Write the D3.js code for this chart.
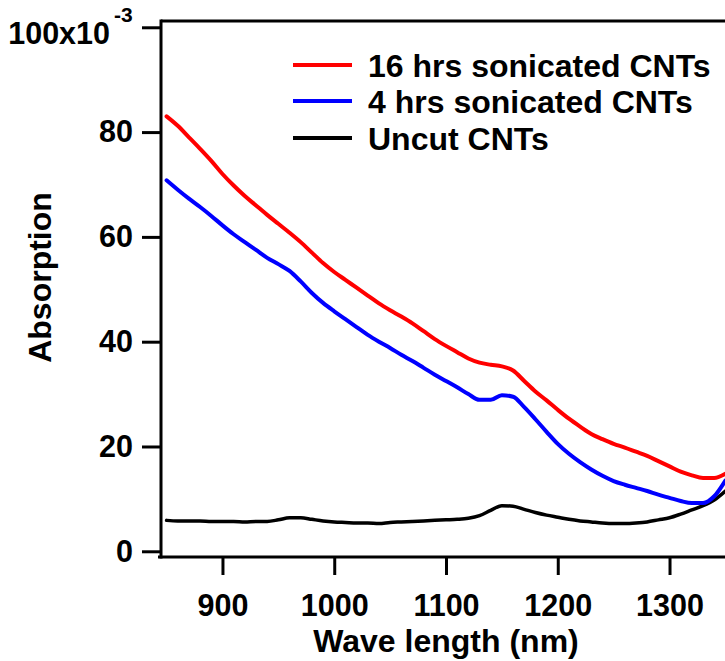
<!DOCTYPE html>
<html>
<head>
<meta charset="utf-8">
<script src="https://cdn.jsdelivr.net/npm/d3@7"></script>
<style>
  html, body { margin: 0; padding: 0; background: #fff; }
  svg { display: block; }
  text { font-family: "Liberation Sans", Arial, sans-serif; font-weight: bold; fill: #000; }
</style>
</head>
<body>
<svg id="chart" width="725" height="661"></svg>
<script>
// ---- Data ----
const wavelengths = [850,860,870,880,890,900,910,920,930,940,950,960,970,980,990,
  1000,1010,1020,1030,1040,1050,1060,1070,1080,1090,1100,1110,1120,1130,1140,1150,
  1160,1170,1180,1190,1200,1210,1220,1230,1240,1250,1260,1270,1280,1290,1300,1310,
  1320,1330,1340,1350];

const sonicated16 = [83.0,81.2,79.0,76.8,74.5,72.0,69.8,67.8,66.0,64.2,62.5,60.8,59.0,57.0,55.0,
  53.3,51.8,50.3,48.8,47.3,46.0,44.8,43.5,42.0,40.5,39.2,38.0,36.8,36.0,35.6,35.3,
  34.5,32.5,30.5,28.8,27.0,25.3,23.8,22.4,21.4,20.5,19.8,19.0,18.2,17.2,16.2,15.2,
  14.5,14.0,14.0,14.8];

const sonicated4 = [70.8,69.0,67.3,65.7,64.0,62.2,60.5,59.0,57.5,56.0,54.8,53.5,51.5,49.3,47.4,
  45.8,44.3,42.8,41.3,40.0,38.8,37.5,36.3,35.0,33.7,32.5,31.3,30.0,28.9,28.9,29.8,
  29.5,27.5,25.2,22.8,20.5,18.6,17.0,15.6,14.4,13.4,12.7,12.1,11.5,10.8,10.2,9.6,
  9.2,9.2,10.5,13.5];

const uncut = [5.9,5.8,5.8,5.8,5.7,5.7,5.7,5.6,5.7,5.7,6.0,6.4,6.4,6.1,5.8,
  5.6,5.5,5.4,5.4,5.3,5.5,5.6,5.7,5.8,5.9,6.0,6.1,6.3,6.8,7.8,8.7,
  8.6,8.0,7.4,6.9,6.5,6.1,5.8,5.6,5.4,5.3,5.3,5.4,5.6,6.0,6.4,7.1,
  7.9,8.7,9.8,11.5];

const seriesNames = ["16 hrs sonicated CNTs", "4 hrs sonicated CNTs", "Uncut CNTs"];
const seriesColors = ["#ff0000", "#0000ff", "#000000"];
const seriesValues = [sonicated16, sonicated4, uncut];

const xTicks = [900, 1000, 1100, 1200, 1300];
const yTicks = [0, 20, 40, 60, 80, 100];

// ---- Layout ----
const svg = d3.select("#chart");
const plotLeft = 161, plotTop = 21, plotBottom = 557;
const tickFont = 30.5;

const x = d3.scaleLinear().domain([845, 1350]).range([plotLeft, 725.4]);
const y = d3.scaleLinear().domain([-1.09, 101.2]).range([plotBottom, plotTop]);

const line = d3.line()
  .x((d, i) => x(wavelengths[i]))
  .y(d => y(d))
  .curve(d3.curveMonotoneX);

[2, 1, 0].forEach(k => {
  svg.append("path")
    .datum(seriesValues[k])
    .attr("d", line)
    .attr("fill", "none")
    .attr("stroke", seriesColors[k])
    .attr("stroke-width", k === 2 ? 3.5 : 4)
    .attr("stroke-linejoin", "round")
    .attr("stroke-linecap", "round");
});

// X axis
const xAxis = svg.append("g")
  .attr("transform", `translate(0,${plotBottom})`)
  .call(d3.axisBottom(x).tickValues(xTicks).tickSize(18).tickPadding(19).tickFormat(d3.format("d")));
xAxis.select(".domain").remove();
xAxis.append("line")
  .attr("x1", plotLeft - 3).attr("x2", 725).attr("y1", 0).attr("y2", 0)
  .attr("stroke", "#000").attr("stroke-width", 3);
xAxis.selectAll(".tick line").attr("stroke", "#000").attr("stroke-width", 3);
xAxis.selectAll(".tick text").attr("font-size", tickFont).attr("font-family", "Liberation Sans, Arial, sans-serif").attr("font-weight", "bold").attr("fill", "#000");

// Y axis
const yAxis = svg.append("g")
  .attr("transform", `translate(${plotLeft},0)`)
  .call(d3.axisLeft(y).tickValues(yTicks).tickSize(19).tickPadding(9)
    .tickFormat(d => d === 100 ? "" : d));
yAxis.select(".domain").remove();
yAxis.append("line")
  .attr("x1", 0).attr("x2", 0).attr("y1", plotTop - 1.5).attr("y2", plotBottom + 1.5)
  .attr("stroke", "#000").attr("stroke-width", 3);
yAxis.selectAll(".tick line").attr("stroke", "#000").attr("stroke-width", 3);
yAxis.selectAll(".tick text").attr("font-size", tickFont).attr("font-family", "Liberation Sans, Arial, sans-serif").attr("font-weight", "bold").attr("fill", "#000");

// top frame line
svg.append("line")
  .attr("x1", plotLeft).attr("x2", 725).attr("y1", plotTop).attr("y2", plotTop)
  .attr("stroke", "#000").attr("stroke-width", 3);

// 100x10^-3 label
svg.append("text")
  .attr("x", 110).attr("y", y(100) + 16.5)
  .attr("text-anchor", "end")
  .attr("font-size", tickFont)
  .text("100x10");
svg.append("text")
  .attr("x", 114).attr("y", y(100) - 5.5)
  .attr("font-size", 21)
  .text("-3");

// axis titles
svg.append("text")
  .attr("x", 446).attr("y", 652)
  .attr("text-anchor", "middle")
  .attr("font-size", 32)
  .text("Wave length (nm)");

svg.append("text")
  .attr("transform", "translate(51,277.5) rotate(-90)")
  .attr("text-anchor", "middle")
  .attr("font-size", 32)
  .text("Absorption");

// legend
const legRows = [65, 101, 138];
seriesNames.forEach((name, i) => {
  svg.append("line")
    .attr("x1", 293).attr("x2", 352)
    .attr("y1", legRows[i]).attr("y2", legRows[i])
    .attr("stroke", seriesColors[i]).attr("stroke-width", 4);
  svg.append("text")
    .attr("x", 368).attr("y", legRows[i] + 11.5)
    .attr("font-size", 32)
    .text(name);
});
</script>
</body>
</html>
